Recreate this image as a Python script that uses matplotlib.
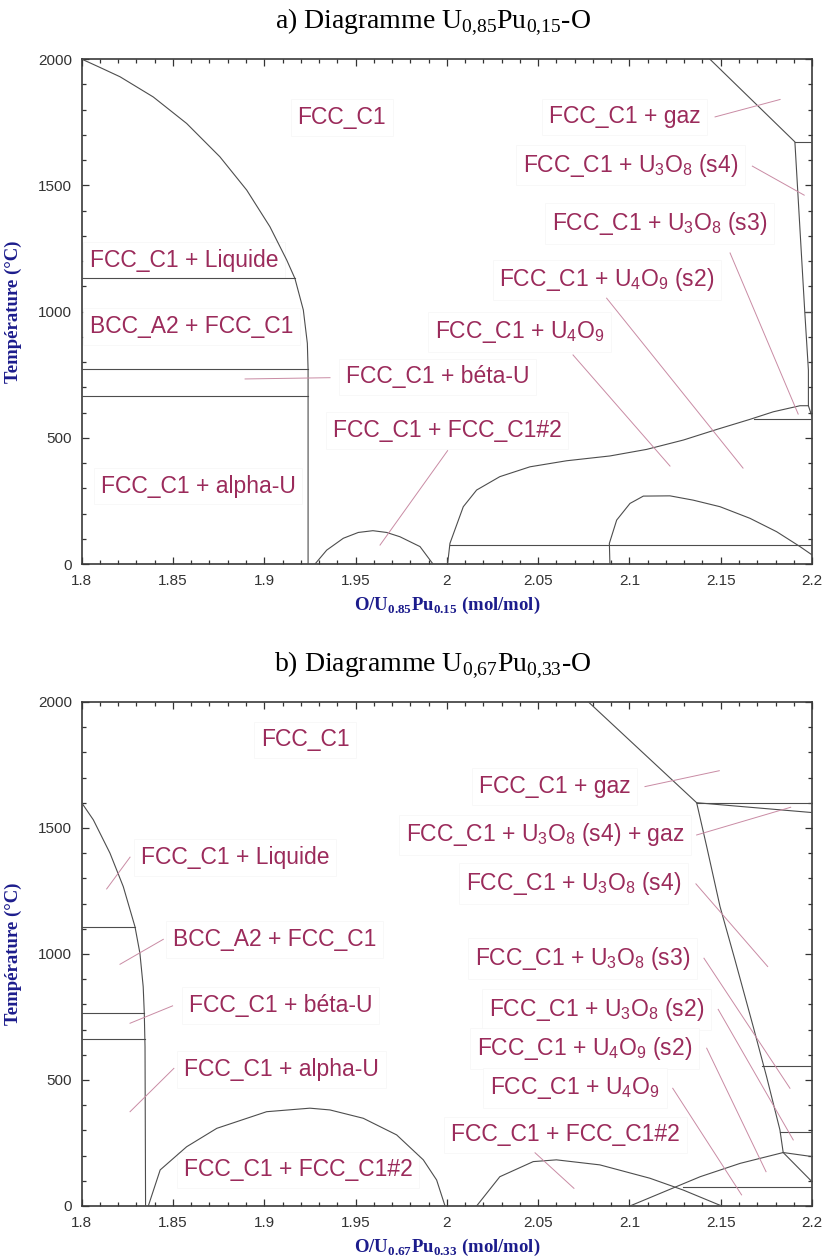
import matplotlib
matplotlib.use("Agg")
import matplotlib.pyplot as plt
from matplotlib.ticker import MultipleLocator, FuncFormatter

plt.rcParams["font.family"] = ["Liberation Sans", "DejaVu Sans"]

LINE = "#4d4d4d"
LABEL = "#9b2b5b"
LEADER = "#c98ba4"
AXLAB = "#1c1c8c"

# ---- panel a : U0.85Pu0.15-O ----
a_liq_x = [1.8, 1.81, 1.821, 1.8392, 1.8575, 1.8757, 1.8904, 1.9031, 1.9123, 1.9168, 1.9214, 1.9236, 1.924, 1.924]
a_liq_t = [2000, 1967, 1930, 1850, 1745, 1613, 1481, 1336, 1204, 1131, 1006, 874, 771, 0]
a_dome1_x = [1.9278, 1.9342, 1.9433, 1.9515, 1.9595, 1.967, 1.9743, 1.9853, 1.9924]
a_dome1_t = [0, 55, 102, 125, 132, 125, 108, 69, 0]
a_fcc2_x = [2.0004, 2.0017, 2.009, 2.0163, 2.029, 2.0455, 2.0656, 2.0893, 2.1094, 2.1295,
            2.1478, 2.166, 2.1788, 2.1934, 2.198, 2.2]
a_fcc2_t = [0, 82, 227, 293, 346, 385, 409, 428, 454, 491, 533, 573, 603, 627, 627, 583]
a_dome2_x = [2.0893, 2.089, 2.093, 2.1003, 2.1076, 2.1222, 2.1349, 2.1496, 2.166, 2.1806, 2.1934, 2.2]
a_dome2_t = [0, 82, 174, 240, 269, 270, 253, 227, 181, 128, 69, 36]
a_gas_x = [2.144, 2.1906, 2.196, 2.198, 2.198]
a_gas_t = [2000, 1672, 1000, 768, 627]
# horizontal invariants: (x start, x end, temperature)
a_flat = [(1.8, 1.9168, 1131), (1.8, 1.924, 771), (1.8, 1.924, 665),
          (2.168, 2.2, 575), (2.0017, 2.2, 75), (2.1906, 2.2, 1672), (2.1961, 2.2, 999)]

a_labels = ["FCC_C1", "FCC_C1 + gaz",
            r"FCC_C1 + U$_\mathregular{3}$O$_\mathregular{8}$ (s4)",
            r"FCC_C1 + U$_\mathregular{3}$O$_\mathregular{8}$ (s3)",
            r"FCC_C1 + U$_\mathregular{4}$O$_\mathregular{9}$ (s2)",
            r"FCC_C1 + U$_\mathregular{4}$O$_\mathregular{9}$",
            "FCC_C1 + Liquide", "BCC_A2 + FCC_C1", "FCC_C1 + béta-U",
            "FCC_C1 + FCC_C1#2", "FCC_C1 + alpha-U"]
a_label_x = [1.9425, 2.0973, 2.1004, 2.1165, 2.0877, 2.0399, 1.8561, 1.860, 1.9948, 2.0001, 1.8638]
a_label_t = [1770, 1771, 1580, 1349, 1125, 920, 1204, 942, 741, 528, 309]
a_leaders = [None, (2.1469, 1771, 2.1825, 1840), (2.1673, 1576, 2.1957, 1461),
             (2.1551, 1232, 2.1924, 594), (2.0875, 1053, 2.1622, 380),
             (2.0691, 828, 2.1222, 388), None, None, (1.936, 738, 1.8895, 733),
             (2.0004, 449, 1.9634, 75), None]

# ---- panel b : U0.67Pu0.33-O ----
b_liq_x = [1.8, 1.8064, 1.8155, 1.8228, 1.8292, 1.8319, 1.8337, 1.8343, 1.8347, 1.835]
b_liq_t = [1600, 1532, 1400, 1267, 1108, 1003, 870, 765, 632, 0]
b_dome1_x = [1.8365, 1.843, 1.8575, 1.874, 1.9013, 1.925, 1.936, 1.9542, 1.9725, 1.9871, 1.9944, 1.999]
b_dome1_t = [0, 143, 235, 308, 374, 388, 381, 348, 282, 183, 103, 0]
b_dome2_x = [2.0163, 2.029, 2.0473, 2.06, 2.0838, 2.1112, 2.1295, 2.1505]
b_dome2_t = [0, 116, 176, 183, 163, 110, 63, 0]
b_rise_x = [2.1003, 2.1387, 2.1606, 2.1842, 2.2]
b_rise_t = [0, 116, 169, 212, 196]
b_drop_x = [2.1842, 2.2]
b_drop_t = [212, 96]
b_gas_x = [2.0775, 2.1368, 2.1423, 2.1496, 2.1578, 2.1678, 2.1751, 2.1824, 2.1842]
b_gas_t = [2000, 1600, 1426, 1188, 976, 711, 513, 302, 212]
b_slope_x = [2.1368, 2.2]
b_slope_t = [1600, 1561]
b_flat = [(1.8, 1.8292, 1108), (1.8, 1.8343, 767), (1.8, 1.8347, 661),
          (2.1295, 2.2, 77), (2.1824, 2.2, 295), (2.1724, 2.2, 556), (2.1368, 2.2, 1600)]

b_labels = ["FCC_C1", "FCC_C1 + gaz",
            r"FCC_C1 + U$_\mathregular{3}$O$_\mathregular{8}$ (s4) + gaz",
            r"FCC_C1 + U$_\mathregular{3}$O$_\mathregular{8}$ (s4)",
            r"FCC_C1 + U$_\mathregular{3}$O$_\mathregular{8}$ (s3)",
            r"FCC_C1 + U$_\mathregular{3}$O$_\mathregular{8}$ (s2)",
            r"FCC_C1 + U$_\mathregular{4}$O$_\mathregular{9}$ (s2)",
            r"FCC_C1 + U$_\mathregular{4}$O$_\mathregular{9}$",
            "FCC_C1 + FCC_C1#2", "FCC_C1 + FCC_C1#2",
            "FCC_C1 + Liquide", "BCC_A2 + FCC_C1", "FCC_C1 + béta-U", "FCC_C1 + alpha-U"]
b_label_x = [1.9223, 2.0589, 2.0537, 2.0694, 2.0745, 2.082, 2.0754, 2.0702, 2.0649, 1.9185,
             1.884, 1.9057, 1.9089, 1.9093]
b_label_t = [1849, 1664, 1472, 1280, 983, 780, 626, 467, 282, 143, 1384, 1056, 794, 540]
b_leaders = [None, (2.1085, 1664, 2.1492, 1727), (2.1368, 1472, 2.1883, 1582),
             (2.1364, 1278, 2.1757, 950), (2.1408, 983, 2.1879, 467),
             (2.1486, 780, 2.1897, 262), (2.1423, 626, 2.1748, 136),
             (2.1237, 467, 2.1614, 44), (2.0483, 211, 2.0696, 70), None,
             (1.8265, 1384, 1.8137, 1258), (1.8447, 1058, 1.821, 959),
             (1.8498, 794, 1.8265, 725), (1.8505, 546, 1.8265, 374)]


def draw_panel(ax, curves, flats, labels, lx, lt, leaders, xlabel):
    for cx, ct in curves:
        ax.plot(cx, ct, color=LINE, lw=0.8, zorder=3)
    for x0, x1, t in flats:
        ax.plot([x0, x1], [t, t], color=LINE, lw=0.8, zorder=3)
    for txt, x, t, ld in zip(labels, lx, lt, leaders):
        ax.text(x, t, txt, fontsize=16.5, color=LABEL, ha="center", va="center", zorder=2,
                bbox=dict(boxstyle="square,pad=0.3", fc="white", ec="#f6f6f6", lw=0.5))
        if ld is not None:
            ax.plot([ld[0], ld[2]], [ld[1], ld[3]], color=LEADER, lw=0.7, zorder=4)

    ax.set_xlim(1.8, 2.2)
    ax.set_ylim(0, 2000)
    ax.xaxis.set_major_locator(MultipleLocator(0.05))
    ax.xaxis.set_minor_locator(MultipleLocator(0.01))
    ax.yaxis.set_major_locator(MultipleLocator(500))
    ax.yaxis.set_minor_locator(MultipleLocator(100))
    ax.xaxis.set_major_formatter(FuncFormatter(lambda v, p: f"{v:g}"))
    ax.yaxis.set_major_formatter(FuncFormatter(lambda v, p: f"{v:g}"))
    ax.tick_params(which="both", direction="in", top=True, right=True,
                   colors="#333333", width=0.9, labelsize=11)
    ax.tick_params(which="major", length=5, pad=7)
    ax.tick_params(which="minor", length=3)
    for s in ax.spines.values():
        s.set_color("#3a3a3a")
        s.set_linewidth(1.2)

    ax.set_xlabel(xlabel, family="Liberation Serif", fontweight="bold", fontsize=13.5,
                  color=AXLAB, labelpad=5)
    ax.set_ylabel("Température (°C)", family="Liberation Serif", fontweight="bold",
                  fontsize=13.5, color=AXLAB)
    ax.yaxis.set_label_coords(-0.082, 0.5)


fig = plt.figure(figsize=(8.24, 12.57), dpi=100)
ax1 = fig.add_axes([0.0991, 0.5513, 0.8864, 0.4017])
ax2 = fig.add_axes([0.0991, 0.0406, 0.8864, 0.401])

draw_panel(ax1,
           [(a_liq_x, a_liq_t), (a_dome1_x, a_dome1_t), (a_fcc2_x, a_fcc2_t),
            (a_dome2_x, a_dome2_t), (a_gas_x, a_gas_t)],
           a_flat, a_labels, a_label_x, a_label_t, a_leaders,
           r"O/U$_\mathregular{0.85}$Pu$_\mathregular{0.15}$ (mol/mol)")
draw_panel(ax2,
           [(b_liq_x, b_liq_t), (b_dome1_x, b_dome1_t), (b_dome2_x, b_dome2_t),
            (b_rise_x, b_rise_t), (b_drop_x, b_drop_t), (b_gas_x, b_gas_t),
            (b_slope_x, b_slope_t)],
           b_flat, b_labels, b_label_x, b_label_t, b_leaders,
           r"O/U$_\mathregular{0.67}$Pu$_\mathregular{0.33}$ (mol/mol)")

fig.text(0.5255, 1 - 22 / 1257, r"a) Diagramme U$_\mathregular{0{,}85}$Pu$_\mathregular{0{,}15}$-O",
         family="Liberation Serif", fontsize=20, ha="center", va="center")
fig.text(0.5255, 1 - 665 / 1257, r"b) Diagramme U$_\mathregular{0{,}67}$Pu$_\mathregular{0{,}33}$-O",
         family="Liberation Serif", fontsize=20, ha="center", va="center")

fig.savefig("out.png", dpi=100)
